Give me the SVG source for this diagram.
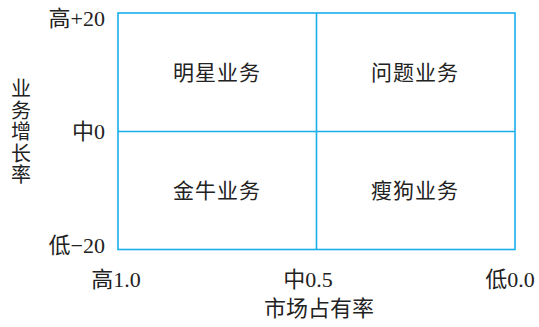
<svg xmlns="http://www.w3.org/2000/svg" width="539" height="327" viewBox="0 0 539 327">
<style>
.ln{stroke:#18aeec;stroke-width:1.6;fill:none}
text{font-family:"Liberation Serif","Noto Sans CJK SC",serif;fill:#222}
.q{font-size:21px;text-anchor:middle;letter-spacing:1px}
.ax{font-size:22px}
.v{font-size:20px;text-anchor:middle}
</style>
<rect width="539" height="327" fill="#fff"/>
<g id="connectors">
<rect class="ln" x="118" y="13" width="397" height="236.5"/>
<line class="ln" x1="316.5" y1="13" x2="316.5" y2="249.5"/>
<line class="ln" x1="118" y1="131.5" x2="515" y2="131.5"/>
</g>
<g id="star"><text class="q" x="217" y="80">明星业务</text></g>
<g id="question"><text class="q" x="415" y="80">问题业务</text></g>
<g id="cow"><text class="q" x="217" y="198">金牛业务</text></g>
<g id="dog"><text class="q" x="415" y="198">瘦狗业务</text></g>
<g id="yaxis">
<text class="ax" x="105" y="26" text-anchor="end">高+20</text>
<text class="ax" x="105" y="139" text-anchor="end">中0</text>
<text class="ax" x="105" y="253" text-anchor="end">低−20</text>
<text class="v" x="21" y="96">业</text>
<text class="v" x="21" y="117.5">务</text>
<text class="v" x="21" y="139">增</text>
<text class="v" x="21" y="160.5">长</text>
<text class="v" x="21" y="182">率</text>
</g>
<g id="xaxis">
<text class="ax" x="116" y="287" text-anchor="middle">高1.0</text>
<text class="ax" x="308" y="287" text-anchor="middle">中0.5</text>
<text class="ax" x="510" y="287" text-anchor="middle">低0.0</text>
<text x="319" y="316" text-anchor="middle" font-size="22">市场占有率</text>
</g>
</svg>
